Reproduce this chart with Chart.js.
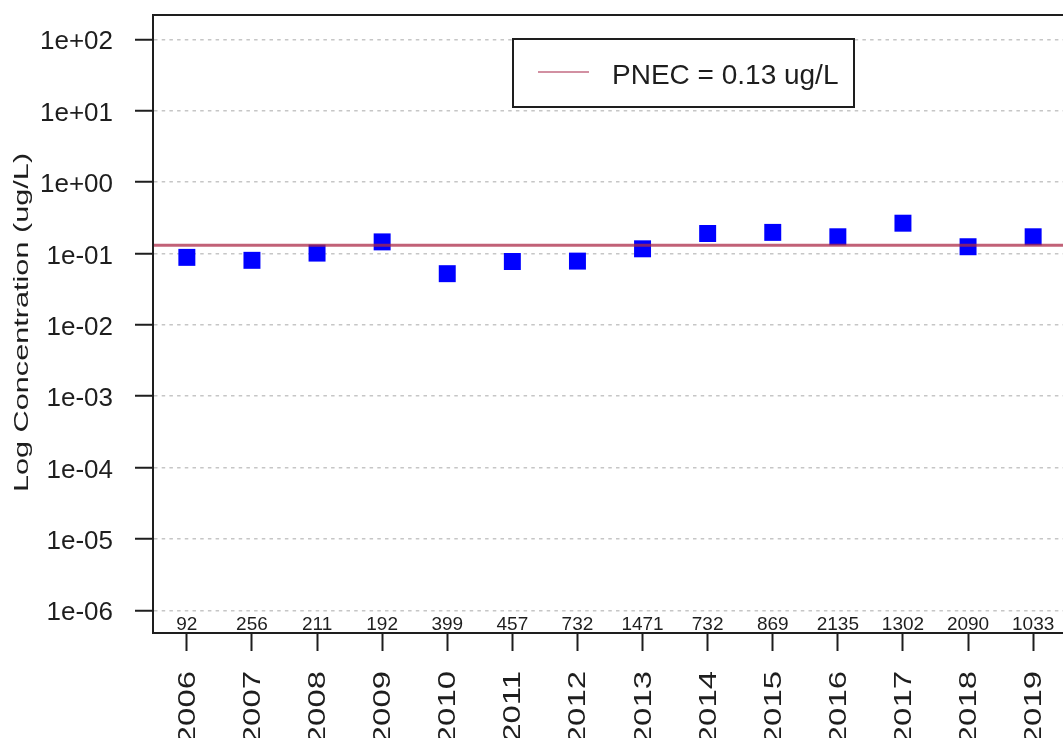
<!DOCTYPE html>
<html>
<head>
<meta charset="utf-8">
<script src="https://cdn.jsdelivr.net/npm/chart.js@4/dist/chart.umd.min.js"></script>
<style>
  html, body { margin: 0; padding: 0; overflow: hidden; background: #ffffff; }
  canvas { display: block; }
</style>
</head>
<body>
<canvas id="c" width="1080" height="738"></canvas>
<script>
// Annual concentration summary with the PNEC threshold
const years = ['2006', '2007', '2008', '2009', '2010', '2011', '2012',
               '2013', '2014', '2015', '2016', '2017', '2018', '2019'];
const concentration = [0.088, 0.080, 0.101, 0.145, 0.052, 0.077, 0.078,
                       0.116, 0.190, 0.197, 0.171, 0.265, 0.124, 0.171];
const sampleCounts = ['92', '256', '211', '192', '399', '457', '732',
                      '1471', '732', '869', '2135', '1302', '2090', '1033'];
const yTickLabels = ['1e-06', '1e-05', '1e-04', '1e-03', '1e-02',
                     '1e-01', '1e+00', '1e+01', '1e+02'];
const pnecValue = 0.13;
const pnecLabel = 'PNEC = 0.13 ug/L';
const yTitle = 'Log Concentration (ug/L)';

// axis extents (index axis padded like base R's 4% rule)
const xMin = 0.48, xMax = years.length + 0.52;
const yMin = Math.pow(10, -6.318), yMax = Math.pow(10, 2.34);

const FONT = "'Liberation Sans', Arial, Helvetica, sans-serif";
const INK = '#1e1e1e';
const BLUE = '#0000ff';
const PNEC_COLOR = 'rgba(172, 42, 72, 0.74)';
const PNEC_KEY_COLOR = 'rgba(180, 70, 100, 0.6)';

// frame, per-year counts, rotated labels, axis title and legend box
const decorations = {
  id: 'decorations',
  afterDraw(chart) {
    const { ctx, chartArea: a, scales: { x } } = chart;
    ctx.save();

    // box around the plotting region
    ctx.strokeStyle = INK;
    ctx.lineWidth = 2;
    ctx.strokeRect(a.left, a.top, a.right - a.left, a.bottom - a.top);

    // number of samples per year, just above the bottom axis
    ctx.fillStyle = INK;
    ctx.font = `19px ${FONT}`;
    ctx.textAlign = 'center';
    ctx.textBaseline = 'alphabetic';
    sampleCounts.forEach((n, i) => {
      ctx.fillText(n, x.getPixelForValue(i + 1), a.bottom - 3);
    });

    // vertical year labels below the tick marks
    ctx.font = `23px ${FONT}`;
    years.forEach((yr, i) => {
      ctx.save();
      ctx.translate(x.getPixelForValue(i + 1), a.bottom + 38);
      ctx.rotate(-Math.PI / 2);
      ctx.scale(1.43, 1);
      ctx.textAlign = 'right';
      ctx.fillText(yr, 0, 8);
      ctx.restore();
    });

    // y axis title
    ctx.save();
    ctx.font = `21px ${FONT}`;
    ctx.translate(28, (a.top + a.bottom) / 2 - 1.5);
    ctx.rotate(-Math.PI / 2);
    ctx.scale(1.46, 1);
    ctx.textAlign = 'center';
    ctx.fillText(yTitle, 0, 0);
    ctx.restore();

    // legend
    const lx = 513, ly = 39, lw = 341, lh = 68;
    ctx.fillStyle = '#ffffff';
    ctx.fillRect(lx, ly, lw, lh);
    ctx.strokeStyle = INK;
    ctx.lineWidth = 2;
    ctx.strokeRect(lx, ly, lw, lh);
    ctx.strokeStyle = PNEC_KEY_COLOR;
    ctx.lineWidth = 2;
    ctx.beginPath();
    ctx.moveTo(lx + 25, ly + 33);
    ctx.lineTo(lx + 76, ly + 33);
    ctx.stroke();
    ctx.fillStyle = INK;
    ctx.font = `28px ${FONT}`;
    ctx.textAlign = 'left';
    ctx.fillText(pnecLabel, lx + 99, ly + 45);

    ctx.restore();
  }
};

new Chart(document.getElementById('c'), {
  data: {
    datasets: [
      {
        type: 'line',
        label: pnecLabel,
        order: 0,
        data: [{ x: xMin, y: pnecValue }, { x: xMax, y: pnecValue }],
        borderColor: PNEC_COLOR,
        borderWidth: 3,
        pointRadius: 0,
        fill: false
      },
      {
        type: 'scatter',
        label: 'Concentration',
        order: 1,
        data: years.map((_, i) => ({ x: i + 1, y: concentration[i] })),
        pointStyle: 'rect',
        pointRadius: 12,
        pointBackgroundColor: BLUE,
        pointBorderColor: BLUE,
        pointBorderWidth: 0
      }
    ]
  },
  options: {
    responsive: false,
    animation: false,
    devicePixelRatio: 1,
    layout: { padding: { top: 15, right: 13, left: 0, bottom: 0 } },
    plugins: { legend: { display: false }, tooltip: { enabled: false } },
    scales: {
      x: {
        type: 'linear',
        position: 'bottom',
        min: xMin,
        max: xMax,
        afterBuildTicks: (s) => { s.ticks = years.map((_, i) => ({ value: i + 1 })); },
        afterFit: (s) => { s.height = 105; s.paddingLeft = 0; s.paddingRight = 0; },
        ticks: { display: false },
        grid: {
          display: true,
          drawOnChartArea: false,
          drawTicks: true,
          tickLength: 18,
          tickColor: INK,
          tickWidth: 2
        },
        border: { display: true, color: INK, width: 2 }
      },
      y: {
        type: 'logarithmic',
        position: 'left',
        min: yMin,
        max: yMax,
        afterBuildTicks: (s) => { s.ticks = yTickLabels.map((l) => ({ value: Number(l) })); },
        afterFit: (s) => { s.width = 153; s.paddingTop = 0; s.paddingBottom = 0; },
        ticks: {
          callback: (v, i) => yTickLabels[i],
          autoSkip: false,
          color: INK,
          padding: 22,
          labelOffset: 3,
          font: { family: FONT, size: 26, lineHeight: 1 }
        },
        grid: {
          color: '#c6c6c6',
          lineWidth: 1.5,
          drawTicks: true,
          tickLength: 18,
          tickColor: INK,
          tickWidth: 2
        },
        border: { display: true, color: INK, width: 2, dash: [3.5, 4.2] }
      }
    }
  },
  plugins: [decorations]
});
</script>
</body>
</html>
